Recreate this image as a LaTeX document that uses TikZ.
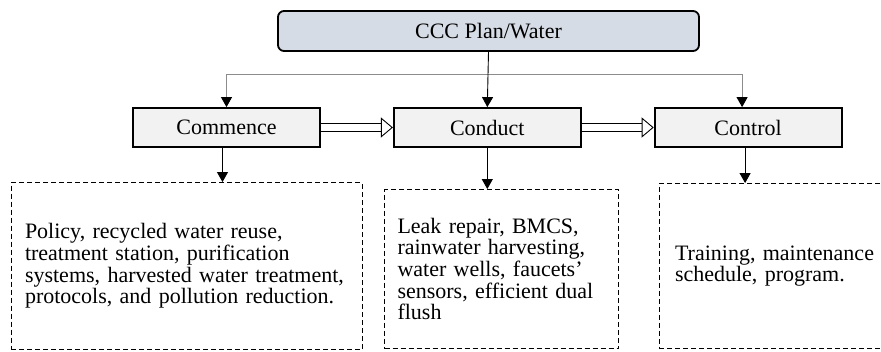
\documentclass[tikz,border=0pt]{standalone}
\usepackage{fontspec}
\setmainfont{Liberation Serif}
\usepackage{tikz}
\usetikzlibrary{positioning, arrows.meta}

\definecolor{planfill}{HTML}{D6DCE5}
\definecolor{phasefill}{HTML}{F2F2F2}
\definecolor{linkgray}{HTML}{8C8C8C}

\begin{document}
\begin{tikzpicture}[
x=1pt, y=-1pt,
planbox/.style={rectangle,
  rounded corners=6pt,
  draw=black,
  line width=1.8pt,
  fill=planfill,
  minimum width=421pt,
  minimum height=40pt,
  font=\fontsize{22}{22}\selectfont
},
phasebox/.style={rectangle,
  draw=black,
  line width=1.8pt,
  fill=phasefill,
  minimum width=187pt,
  minimum height=39pt,
  font=\fontsize{22}{22}\selectfont
},
notebox/.style 2 args={rectangle,
  draw=black,
  dashed,
  dash pattern=on 5pt off 3pt,
  line width=0.9pt,
  text width=#1,
  minimum height=#2,
  inner xsep=14pt,
  align=left,
  font=\fontsize{22}{21.7}\selectfont
},
flow/.style={line width=0.9pt, -{Triangle[length=10pt,width=11pt,color=black]}},
link/.style={flow, draw=linkgray},
hollow/.style={double, double distance=7.5pt, line width=0.9pt,
  -{Triangle[open, length=12pt, width=20pt]}}
]
\useasboundingbox (0,0) rectangle (881,351);

\node[planbox] (plan) at (488.5,31)
    {CCC Plan/Water};

\node[phasebox] (commence) at (226.5,127.5)
    {Commence};
\node[phasebox, right= 72pt of commence] (conduct)
    {Conduct};
\node[phasebox, right= 72pt of conduct] (control)
    {Control};

\node[notebox={323pt}{167pt}] (policy) at (186.5,266)
    {Policy, recycled water reuse,\\
     treatment station, purification\\
     systems, harvested water treatment,\\
     protocols, and pollution reduction.};
\node[notebox={208pt}{159pt}, inner xsep=13pt] (repair) at (501.5,269)
    {Leak repair, BMCS,\\
     rainwater harvesting,\\
     water wells, faucets'\\
     sensors, efficient dual\\
     flush};
\node[notebox={204pt}{165pt}, inner xsep=16pt] (training) at (777,266)
    {Training, maintenance\\
     schedule, program.};

\coordinate (split) at (plan.south |- 0,74);

\draw[link] (split) -| (commence.north);
\draw[link] (split) -| ([xshift=-6pt]control.north);
\draw[flow] (plan.south) -- (conduct.north);

\draw[hollow] (commence.east) -- (conduct.west);
\draw[hollow] (conduct.east) -- (control.west);

\draw[flow] ([xshift=-4pt]commence.south) -- ([xshift=-4pt]commence.south |- policy.north);
\draw[flow] (conduct.south) -- (conduct.south |- repair.north);
\draw[flow] ([xshift=-3pt]control.south) -- ([xshift=-3pt]control.south |- training.north);
\end{tikzpicture}
\end{document}
